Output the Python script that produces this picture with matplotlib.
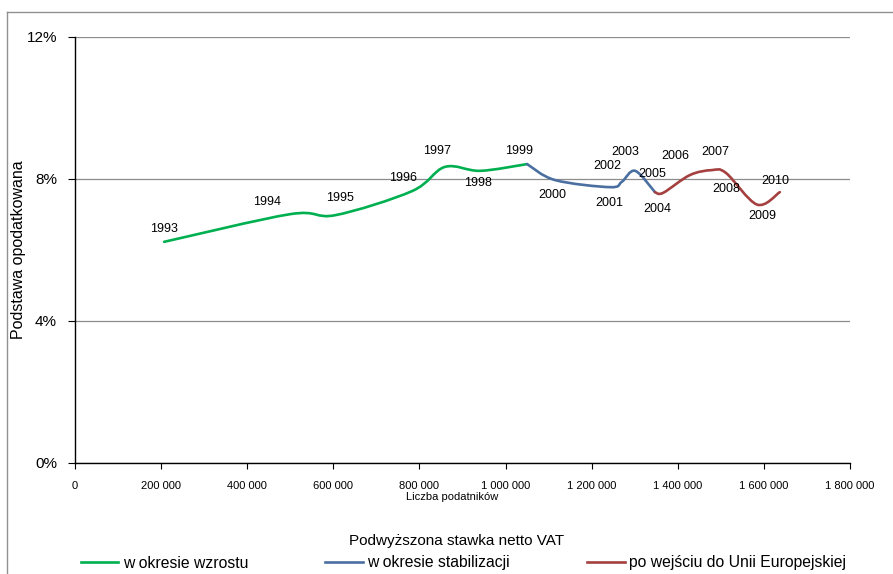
import numpy as np
import matplotlib
matplotlib.use('Agg')
import matplotlib.pyplot as plt
from matplotlib.path import Path
from matplotlib.patches import PathPatch
from matplotlib.lines import Line2D
from matplotlib.ticker import FuncFormatter, MultipleLocator

plt.rcParams['font.family'] = ['Liberation Sans', 'DejaVu Sans']

# dane: liczba podatników (x), podstawa opodatkowana w % (y)
years = [1993, 1994, 1995, 1996, 1997, 1998, 1999, 2000, 2001, 2002,
         2003, 2004, 2005, 2006, 2007, 2008, 2009, 2010]
podatnicy = [207000, 500000, 604000, 783000, 859000, 941000, 1050000, 1115000,
             1243000, 1270000, 1301000, 1347000, 1366000, 1428000, 1479000,
             1512000, 1584000, 1637000]
stawka = [6.23, 7.01, 6.98, 7.66, 8.34, 8.23, 8.42, 7.97, 7.77, 7.92,
          8.23, 7.63, 7.61, 8.11, 8.25, 8.17, 7.28, 7.63]

okresy = ['w okresie wzrostu', 'w okresie stabilizacji', 'po wejściu do Unii Europejskiej']
okres_lata = [(1993, 1999), (1999, 2004), (2004, 2010)]
kolory = ['#00B050', '#4A6FA0', '#A4403F']

# przesunięcia etykiet (piksele)
offsety = {1993: (0, 13), 1994: (-23, 12), 1995: (5, 17), 1996: (-9, 13),
           1997: (-8, 16), 1998: (-2, -12), 1999: (-8, 13), 2000: (-3, -15),
           2001: (-1, -16), 2002: (-14, 16), 2003: (-10, 19), 2004: (2, -17),
           2005: (-11, 19), 2006: (-15, 19), 2007: (4, 18), 2008: (0, -16),
           2009: (5, -11), 2010: (-5, 11)}


def wygladzona(xs, ys):
    # krzywa Beziera jak "wygładzona linia" w Excelu
    p = np.column_stack([xs, ys]).astype(float)
    n = len(p)
    verts = [p[0]]
    codes = [Path.MOVETO]
    for i in range(n - 1):
        p0 = p[i - 1] if i > 0 else p[i]
        p3 = p[i + 2] if i + 2 < n else p[i + 1]
        c1 = p[i] + (p[i + 1] - p0) / 6.0
        c2 = p[i + 1] - (p3 - p[i]) / 6.0
        verts += [c1, c2, p[i + 1]]
        codes += [Path.CURVE4] * 3
    return Path(verts, codes)


fig = plt.figure(figsize=(8.93, 5.74), dpi=100)
ax = fig.add_axes([75 / 893, 1 - 463 / 574, 775 / 893, 426 / 574])

for nazwa, (a, b), kol in zip(okresy, okres_lata, kolory):
    i0, i1 = years.index(a), years.index(b)
    path = wygladzona(podatnicy[i0:i1 + 1], stawka[i0:i1 + 1])
    ax.add_patch(PathPatch(path, fill=False, edgecolor=kol, lw=1.9,
                           capstyle='round', joinstyle='round', zorder=3))

for r, x, y in zip(years, podatnicy, stawka):
    ax.annotate(str(r), (x, y), xytext=offsety[r], textcoords='offset pixels',
                ha='center', va='center', fontsize=9, color='black', zorder=4)

ax.set_xlim(0, 1800000)
ax.set_ylim(0, 12)
ax.xaxis.set_major_locator(MultipleLocator(200000))
ax.yaxis.set_major_locator(MultipleLocator(4))
ax.xaxis.set_major_formatter(FuncFormatter(lambda v, p: f'{int(v):,}'.replace(',', ' ')))
ax.yaxis.set_major_formatter(FuncFormatter(lambda v, p: f'{int(v)}%'))
ax.grid(axis='y', color='#8c8c8c', lw=0.9)
ax.set_axisbelow(True)
for s in ['top', 'right']:
    ax.spines[s].set_visible(False)
for s in ['left', 'bottom']:
    ax.spines[s].set_color('black')
    ax.spines[s].set_linewidth(1.0)
ax.tick_params(axis='y', direction='out', length=5, width=0.8, labelsize=11, pad=8)
ax.tick_params(axis='x', direction='out', length=4, width=0.8, labelsize=8, pad=9)

ax.set_ylabel('Podstawa opodatkowana', fontsize=11.5)
ax.yaxis.set_label_coords(-0.063, 0.5)
fig.text(452 / 893, 1 - 497 / 574, 'Liczba podatników', ha='center', va='center', fontsize=8)
fig.text(457 / 893, 1 - 541 / 574, 'Podwyższona stawka netto VAT', ha='center', va='center', fontsize=11)

# ramka wykresu
fig.add_artist(Line2D([7 / 893, 1], [1 - 12 / 574] * 2, color='#909090', lw=1))
fig.add_artist(Line2D([7 / 893] * 2, [0, 1 - 12 / 574], color='#909090', lw=1))

uchwyty = [Line2D([], [], color=k, lw=1.9) for k in kolory]
fig.legend(uchwyty, okresy, loc='center', bbox_to_anchor=(0.519, 1 - 563 / 574),
           ncol=3, frameon=False, fontsize=11.3, handlelength=2.4,
           handletextpad=0.3, columnspacing=4.9, borderaxespad=0, borderpad=0)

fig.savefig('out.png', dpi=100)
